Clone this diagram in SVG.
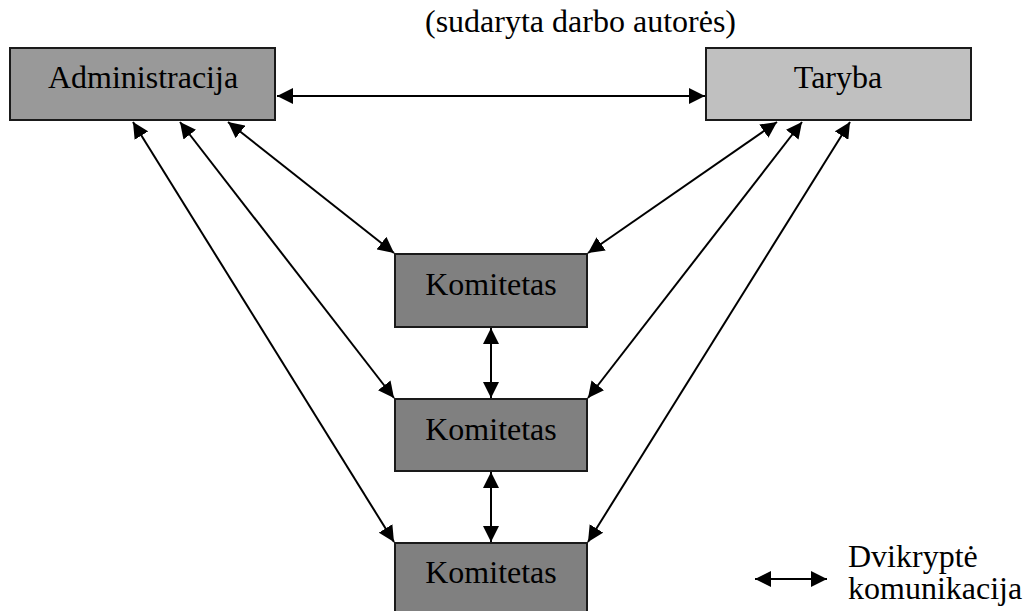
<svg xmlns="http://www.w3.org/2000/svg" width="1024" height="611" viewBox="0 0 1024 611">
<defs>
<style>
text{font-family:"Liberation Serif","Times New Roman",serif;font-size:32px;fill:#000}
.box{stroke:#1a1a1a;stroke-width:2}
.c{text-anchor:middle}
.con line{stroke:#000;stroke-width:2;marker-start:url(#ah);marker-end:url(#ah)}
</style>
<marker id="ah" markerUnits="userSpaceOnUse" markerWidth="17" markerHeight="16" refX="16" refY="8" orient="auto-start-reverse" viewBox="0 0 17 16">
<path d="M0,0 L16,8 L0,16 z" fill="#000"/>
</marker>
</defs>
<rect width="1024" height="611" fill="#fff"/>
<text x="425" y="32">(sudaryta darbo autorės)</text>
<g id="administracija">
<rect class="box" x="10" y="48" width="265" height="72" fill="#999999"/>
<text class="c" x="143" y="88">Administracija</text>
</g>
<g id="taryba">
<rect class="box" x="706" y="48" width="265" height="72" fill="#c0c0c0"/>
<text class="c" x="838" y="88">Taryba</text>
</g>
<g id="komitetas1">
<rect class="box" x="395" y="254" width="192" height="73" fill="#808080"/>
<text class="c" x="491" y="295">Komitetas</text>
</g>
<g id="komitetas2">
<rect class="box" x="395" y="399" width="192" height="72" fill="#808080"/>
<text class="c" x="491" y="440">Komitetas</text>
</g>
<g id="komitetas3">
<rect class="box" x="395" y="543" width="192" height="72" fill="#808080"/>
<text class="c" x="491" y="583">Komitetas</text>
</g>
<g class="con" id="connectors">
<line x1="277" y1="96" x2="705" y2="96"/>
<line x1="228" y1="122" x2="394" y2="253"/>
<line x1="180" y1="122" x2="394" y2="398"/>
<line x1="133" y1="122" x2="394" y2="542"/>
<line x1="777" y1="122" x2="588" y2="253"/>
<line x1="802" y1="122" x2="588" y2="398"/>
<line x1="850" y1="122" x2="588" y2="542"/>
<line x1="491" y1="328" x2="491" y2="398"/>
<line x1="491" y1="472" x2="491" y2="542"/>
</g>
<g id="legend">
<g class="con"><line x1="755" y1="579" x2="827" y2="579"/></g>
<text x="848" y="567">Dvikryptė</text>
<text x="848" y="599">komunikacija</text>
</g>
</svg>
